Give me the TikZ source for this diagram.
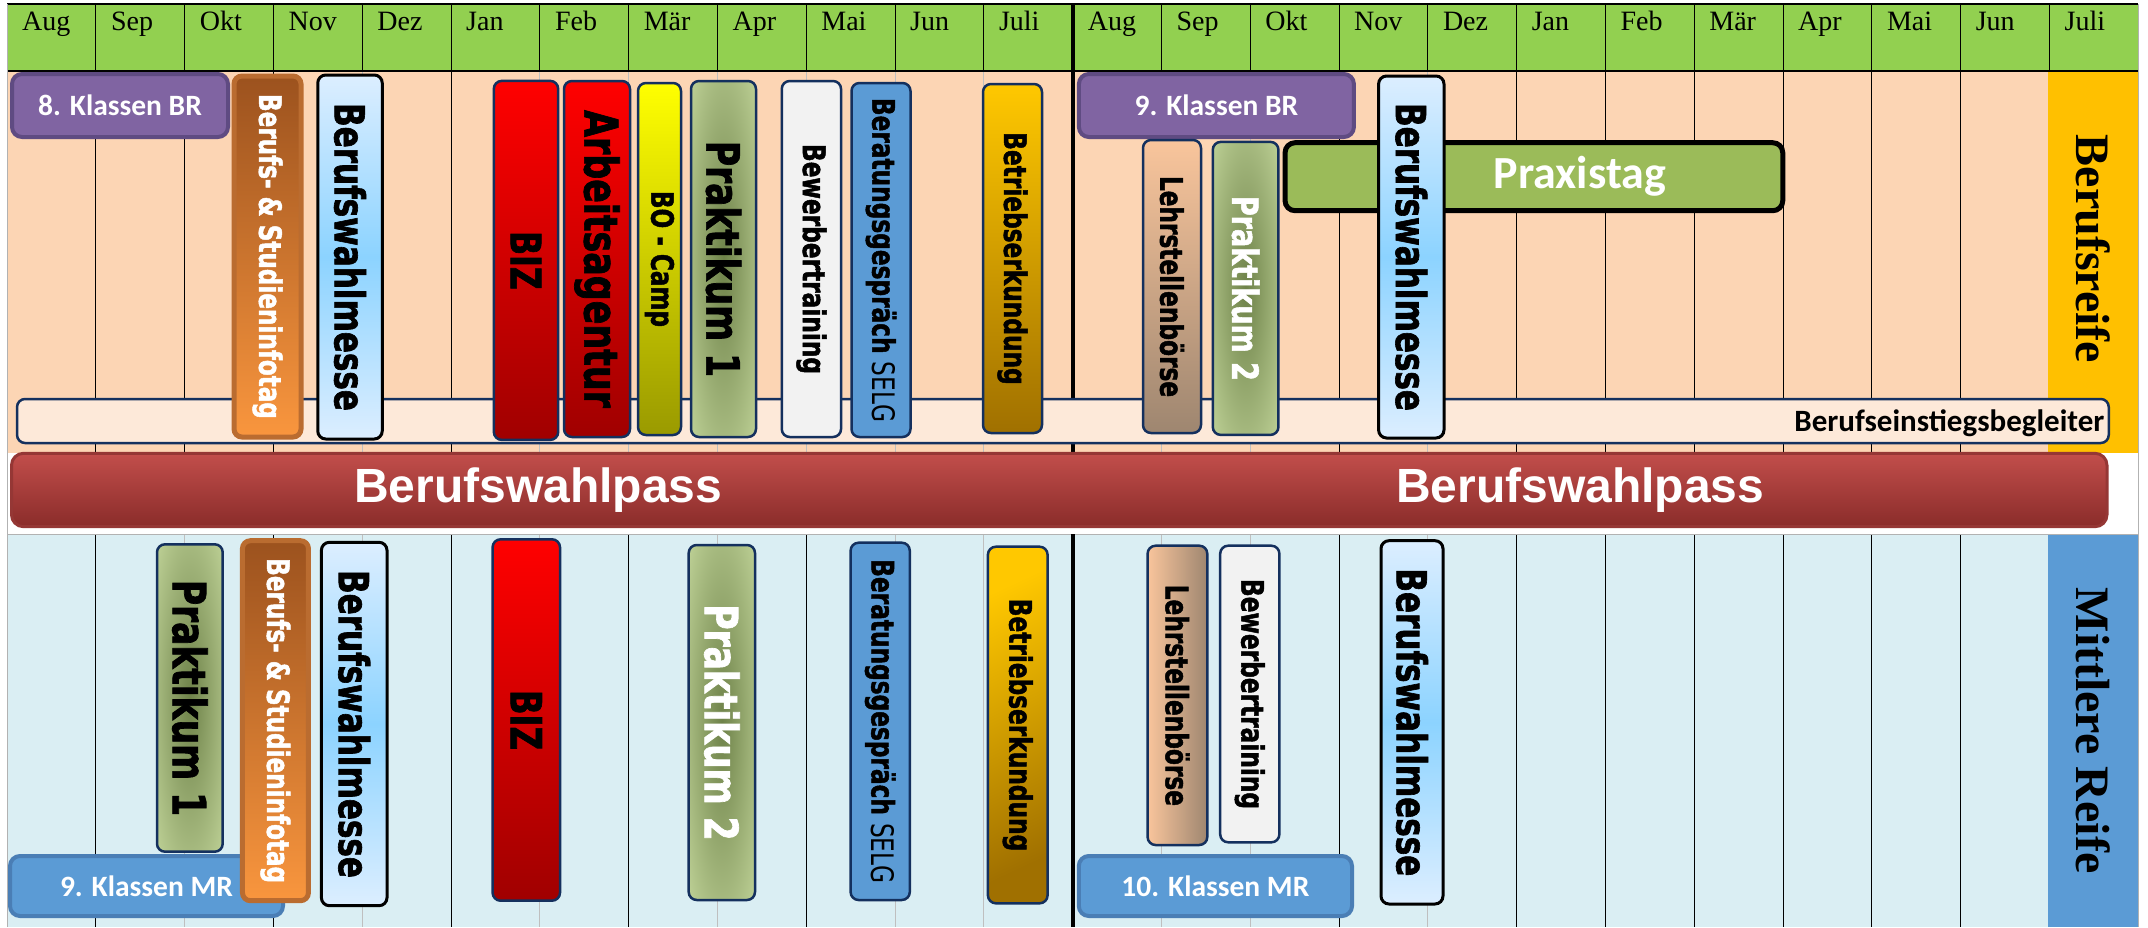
\documentclass[tikz,border=0pt]{standalone}
\usepackage{fontspec}
\newfontfamily\boxfont{DejaVu Sans}[FakeStretch=0.75, BoldFeatures={FakeBold=1.5}]
\newfontfamily\calfont{Carlito}
\newfontfamily\serfont{Liberation Serif}
\newfontfamily\passfont{Liberation Sans}

\definecolor{hdrgreen}{HTML}{92D050}
\definecolor{peach}{HTML}{FCD5B4}
\definecolor{paleblue}{HTML}{DAEEF3}
\definecolor{gold}{HTML}{FFC000}
\definecolor{colblue}{HTML}{5B9BD5}
\definecolor{navy}{HTML}{14305E}
\definecolor{lila}{HTML}{8064A2}
\definecolor{lilaedge}{HTML}{5F4B82}
\definecolor{mredge}{HTML}{4A7EB5}
\definecolor{barpeach}{HTML}{FDE9D9}
\definecolor{studtop}{HTML}{9C521E}
\definecolor{studbot}{HTML}{F9963E}
\definecolor{studedge}{HTML}{BA6C30}
\definecolor{redtop}{HTML}{FF0000}
\definecolor{redbot}{HTML}{A00000}
\definecolor{yeltop}{HTML}{FFFF00}
\definecolor{yelbot}{HTML}{9A9A00}
\definecolor{bettop}{HTML}{FFC800}
\definecolor{betbot}{HTML}{A07000}
\definecolor{lehrtop}{HTML}{F9C59C}
\definecolor{lehrbot}{HTML}{9E8670}
\definecolor{prakin}{HTML}{6E8249}
\definecolor{prakout}{HTML}{C3D69B}
\definecolor{messeout}{HTML}{DCEEFF}
\definecolor{messein}{HTML}{8CD3FF}
\definecolor{passtop}{HTML}{C24E4B}
\definecolor{passbot}{HTML}{8A2C2A}
\definecolor{passedge}{HTML}{953735}
\definecolor{praxgreen}{HTML}{9BBB59}
\definecolor{bewgray}{HTML}{F2F2F2}

\pgfdeclareradialshading{prakshade}{\pgfpoint{0bp}{0bp}}{color(0bp)=(prakin); color(38bp)=(prakout); color(50bp)=(prakout)}

\newcommand{\vlab}[1]{\rotatebox{-90}{#1}}

\tikzset{
	fs/.style={font=\boxfont\bfseries\fontsize{#1}{#1}\selectfont},
	sz/.style 2 args={minimum width=#1pt, minimum height=#2pt}
}

\begin{document}
\begin{tikzpicture}[x=1pt, y=-1pt,
		vbox/.style={draw=navy, line width=2.5pt, rounded corners=8pt, inner sep=0pt},
		klasse/.style={line width=4pt, rounded corners=10pt, inner sep=0pt, text=white,
			font=\calfont\bfseries\fontsize{29.5}{34}\selectfont},
		messe/.style={vbox, draw=black, line width=3pt, top color=messeout, bottom color=messeout,
			middle color=messein, fs=41.4},
		stud/.style={vbox, draw=studedge, line width=5pt, top color=studtop, bottom color=studbot,
			text=white, fs=30.8},
		prak/.style={vbox, shading=prakshade},
		month/.style={anchor=base west, inner sep=0pt, font=\serfont\fontsize{28}{32}\selectfont},
		dark/.style={black, line width=1pt},
		light/.style={black!25, line width=0.8pt}
	]
	\useasboundingbox (0,0) rectangle (2148,927);
	\fill[white] (0,0) rectangle (2148,927);

	% Flaechen
	\fill[hdrgreen] (7,4) rectangle (2138,71);
	\fill[peach]    (7,71) rectangle (2047.6,453);
	\fill[gold]     (2047.6,71) rectangle (2138,453);
	\fill[paleblue] (7,534) rectangle (2047.6,927);
	\fill[colblue]  (2047.6,534) rectangle (2138,927);

	% Raster
	\foreach \i in {1,2,3,5,15,17,18,19,20,21,22}
		\draw[dark] ({7+88.8*\i},71) -- ({7+88.8*\i},453);
	\foreach \i in {4,6,7,8,9,10,11,13,14,16}
		\draw[light] ({7+88.8*\i},71) -- ({7+88.8*\i},453);
	\foreach \i in {1,3,5,7,9,15,17,18,19,20,21,22}
		\draw[dark] ({7+88.8*\i},534) -- ({7+88.8*\i},927);
	\foreach \i in {2,4,6,8,10,11,13,14,16}
		\draw[light] ({7+88.8*\i},534) -- ({7+88.8*\i},927);
	\foreach \i in {1,...,23}
		\draw[dark] ({7+88.8*\i},4) -- ({7+88.8*\i},71);
	\draw[line width=1.2pt] (7,4) -- (2138,4) (7,71) -- (2138,71);
	\draw[black!30] (7,4) -- (7,927) (2138,4) -- (2138,927) (7,534) -- (2138,534);
	\draw[line width=4pt] (1072.6,4) -- (1072.6,453) (1072.6,534) -- (1072.6,927);

	\foreach \m [count=\i from 0] in {Aug,Sep,Okt,Nov,Dez,Jan,Feb,Mär,Apr,Mai,Jun,Juli,
			Aug,Sep,Okt,Nov,Dez,Jan,Feb,Mär,Apr,Mai,Jun,Juli}
		\node[month] (m\i) at ({22+88.8*\i},30) {\m};

	% Berufsreife
	\node[draw=navy, line width=2.5pt, rounded corners=8pt, fill=barpeach, sz={2091.7}{44},
		text width=2083pt, align=right, inner xsep=4pt, inner ysep=0pt, text depth=0pt,
		font=\calfont\bfseries\fontsize{31}{34}\selectfont] (begleiter) at (1062.9,421)
		{Berufseinstiegsbegleiter};

	\node[klasse, draw=lilaedge, fill=lila, sz={216}{63}] (kl8) at (120,105.5) {8. Klassen BR};
	\node[stud, sz={67}{361}] (studU) at (267.5,256.5) {\vlab{Berufs- \& Studieninfotag}};
	\node[messe, sz={64.5}{364}] (messeU) at (350,257) {\vlab{Berufswahlmesse}};
	\node[vbox, top color=redtop, bottom color=redbot, fs=42, sz={64.4}{359}] (bizU) at (526,260.4) {\vlab{BIZ}};
	\node[vbox, top color=redtop, bottom color=redbot, fs=46.5, sz={66}{356}] (agentur) at (597,259) {\vlab{Arbeitsagentur}};
	\node[vbox, top color=yeltop, bottom color=yelbot, fs=30.8, sz={43}{352}] (camp) at (659.5,259) {\vlab{BO - Camp}};
	\node[prak, fs=46, sz={65}{356}] (prakU) at (723.5,259) {\vlab{Praktikum 1}};
	\node[vbox, fill=bewgray, fs=31, sz={59.3}{356}] (bewU) at (811.4,259) {\vlab{Bewerbertraining}};
	\node[vbox, fill=colblue, fs=31, sz={59}{354}] (selgU) at (881,260) {\vlab{Beratungsgespräch {\mdseries SELG}}};
	\node[vbox, top color=bettop, bottom color=betbot, fs=31, sz={59}{349}] (betrU) at (1012.5,258.5) {\vlab{Betriebserkundung}};

	\node[klasse, draw=lilaedge, fill=lila, sz={275}{63}] (kl9) at (1216.4,105.5) {9. Klassen BR};
	\node[vbox, top color=lehrtop, bottom color=lehrbot, fs=31, sz={58}{293}] (lehrU) at (1172,286.5) {\vlab{Lehrstellenbörse}};
	\node[prak, text=white, fs=36, sz={65.7}{293}] (prak2U) at (1245.6,288.4) {\vlab{Praktikum 2}};
	\node[draw=black, line width=5pt, rounded corners=10pt, fill=praxgreen, text=white, inner sep=0pt,
		font=\calfont\bfseries\fontsize{46}{50}\selectfont, sz={497.7}{68}] (praxis) at (1533.9,176.7)
		{\hspace*{92pt}Praxistag};
	\node[messe, sz={65.4}{362}] (messeU2) at (1411.3,257) {\vlab{Berufswahlmesse}};

	\node[font=\serfont\bfseries\fontsize{48}{52}\selectfont, inner sep=0pt] (reifeB) at (2093,249) {\vlab{Berufsreife}};

	% Berufswahlpass
	\node[draw=passedge, line width=3pt, rounded corners=12pt, top color=passtop, bottom color=passbot,
		sz={2095.5}{73.4}, text=white, font=\passfont\bfseries\fontsize{48}{52}\selectfont] (pass) at (1059.25,490)
		{Berufswahlpass\hspace{674pt}Berufswahlpass};

	% Mittlere Reife
	\node[prak, fs=46, sz={65.7}{307.4}] (prakL) at (189.85,698) {\vlab{Praktikum 1}};
	\node[klasse, draw=mredge, fill=colblue, sz={273}{60}] (kl9MR) at (146.5,886) {9. Klassen MR};
	\node[stud, sz={66}{360}] (studL) at (275.45,720.7) {\vlab{Berufs- \& Studieninfotag}};
	\node[messe, sz={65.6}{363.4}] (messeL) at (354.2,724) {\vlab{Berufswahlmesse}};
	\node[vbox, top color=redtop, bottom color=redbot, fs=43, sz={67.4}{361.4}] (bizL) at (526.3,720) {\vlab{BIZ}};
	\node[prak, text=white, fs=46, sz={66.3}{355}] (prak2L) at (721.85,722.5) {\vlab{Praktikum 2}};
	\node[vbox, fill=colblue, fs=31, sz={59.2}{357.3}] (selgL) at (880.2,721.35) {\vlab{Beratungsgespräch {\mdseries SELG}}};
	\node[vbox, top color=bettop, bottom color=betbot, shading angle=25, fs=31, sz={59.7}{356.6}] (betrL) at (1017.75,725) {\vlab{Betriebserkundung}};
	\node[vbox, left color=lehrtop, right color=lehrbot, fs=31, sz={59.7}{299.3}] (lehrL) at (1177.45,695.35) {\vlab{Lehrstellenbörse}};
	\node[vbox, fill=bewgray, fs=31, sz={59.2}{296.6}] (bewL) at (1249.8,694) {\vlab{Bewerbertraining}};
	\node[klasse, draw=mredge, fill=colblue, sz={273.2}{60}] (kl10MR) at (1215.4,886) {10. Klassen MR};
	\node[messe, sz={62}{363.3}] (messeL2) at (1412,722.35) {\vlab{Berufswahlmesse}};

	\node[font=\serfont\bfseries\fontsize{48}{52}\selectfont, inner sep=0pt] (reifeM) at (2093,730.5) {\vlab{Mittlere Reife}};
\end{tikzpicture}
\end{document}
